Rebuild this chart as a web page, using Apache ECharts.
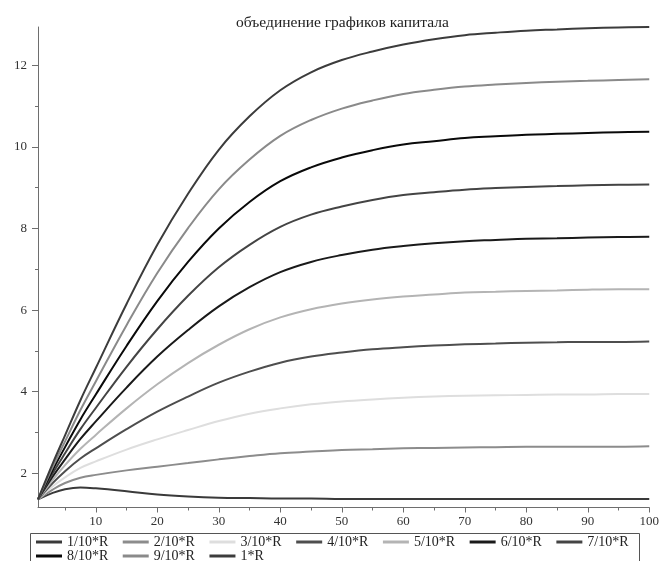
<!DOCTYPE html>
<html>
<head>
<meta charset="utf-8">
<script src="https://cdn.jsdelivr.net/npm/echarts@6/dist/echarts.min.js"></script>
<style>
  html, body { margin: 0; padding: 0; background: #fff; }
  #chart { width: 662px; height: 561px; }
</style>
</head>
<body>
<div id="chart"></div>
<script>
// Capital trajectories for different shares of R
const xValues = [0.6, 3, 5, 7.5, 10, 15, 20, 25, 30, 35, 40, 45, 50, 55, 60, 65, 70, 75, 80, 85, 90, 95, 100];

const r01 = [1.36, 1.52, 1.61, 1.65, 1.63, 1.56, 1.48, 1.43, 1.40, 1.39, 1.38, 1.38, 1.37, 1.37, 1.37, 1.37, 1.37, 1.37, 1.37, 1.37, 1.37, 1.37, 1.37];
const r02 = [1.36, 1.60, 1.76, 1.89, 1.96, 2.07, 2.16, 2.25, 2.34, 2.42, 2.49, 2.53, 2.57, 2.59, 2.61, 2.62, 2.63, 2.64, 2.65, 2.65, 2.65, 2.65, 2.66];
const r03 = [1.36, 1.68, 1.90, 2.13, 2.29, 2.58, 2.83, 3.06, 3.28, 3.46, 3.59, 3.69, 3.76, 3.81, 3.85, 3.88, 3.90, 3.91, 3.92, 3.93, 3.93, 3.94, 3.94];
const r04 = [1.36, 1.76, 2.05, 2.36, 2.61, 3.08, 3.51, 3.88, 4.22, 4.49, 4.71, 4.86, 4.96, 5.04, 5.09, 5.13, 5.16, 5.18, 5.20, 5.21, 5.22, 5.22, 5.23];
const r05 = [1.36, 1.84, 2.20, 2.60, 2.94, 3.59, 4.18, 4.70, 5.15, 5.53, 5.82, 6.02, 6.16, 6.26, 6.33, 6.38, 6.43, 6.45, 6.47, 6.48, 6.50, 6.51, 6.51];
const r06 = [1.36, 1.92, 2.34, 2.84, 3.27, 4.10, 4.86, 5.51, 6.09, 6.56, 6.93, 7.18, 7.35, 7.48, 7.57, 7.64, 7.69, 7.72, 7.75, 7.76, 7.78, 7.79, 7.80];
const r07 = [1.36, 2.00, 2.49, 3.08, 3.60, 4.61, 5.53, 6.35, 7.05, 7.60, 8.04, 8.34, 8.54, 8.70, 8.82, 8.89, 8.95, 8.99, 9.02, 9.04, 9.06, 9.07, 9.08];
const r08 = [1.36, 2.08, 2.64, 3.32, 3.93, 5.12, 6.22, 7.18, 8.00, 8.65, 9.16, 9.50, 9.74, 9.92, 10.06, 10.14, 10.22, 10.26, 10.30, 10.32, 10.34, 10.36, 10.37];
const r09 = [1.36, 2.16, 2.78, 3.55, 4.25, 5.63, 6.91, 8.01, 8.96, 9.69, 10.27, 10.66, 10.94, 11.14, 11.30, 11.40, 11.48, 11.53, 11.57, 11.60, 11.62, 11.64, 11.66];
const r10 = [1.36, 2.24, 2.93, 3.79, 4.58, 6.15, 7.60, 8.85, 9.93, 10.75, 11.39, 11.83, 12.13, 12.34, 12.51, 12.64, 12.74, 12.80, 12.85, 12.88, 12.91, 12.93, 12.94];

const seriesNames = ['1/10*R', '2/10*R', '3/10*R', '4/10*R', '5/10*R', '6/10*R', '7/10*R', '8/10*R', '9/10*R', '1*R'];
const seriesValues = [r01, r02, r03, r04, r05, r06, r07, r08, r09, r10];
const seriesColors = ['#3a3a3a', '#8c8c8c', '#dedede', '#4e4e4e', '#b4b4b4', '#1a1a1a', '#444444', '#0a0a0a', '#8a8a8a', '#3c3c3c'];

const xLabelTicks = [10, 20, 30, 40, 50, 60, 70, 80, 90, 100];
const xMinorTicks = [5, 15, 25, 35, 45, 55, 65, 75, 85, 95];
const yLabelTicks = [2, 4, 6, 8, 10, 12];
const yMinorTicks = [3, 5, 7, 9, 11];

const titleText = 'объединение графиков капитала';

const serif = 'Liberation Serif';
const X_MIN = 0.6, X_MAX = 100, Y_MIN = 1.16, Y_MAX = 12.94;

const chart = echarts.init(document.getElementById('chart'), null, { renderer: 'canvas' });

const series = seriesNames.map((name, i) => ({
  name: name,
  type: 'line',
  xAxisIndex: 0,
  yAxisIndex: 0,
  data: xValues.map((x, j) => [x, seriesValues[i][j]]),
  smooth: 0.4,
  symbol: 'none',
  color: seriesColors[i],
  itemStyle: { color: seriesColors[i] },
  lineStyle: { color: seriesColors[i], width: 2 },
  emphasis: { disabled: true },
  z: 2
}));

const axisLineStyle = { color: '#6e6e6e', width: 1 };

const legendBase = {
  left: 36,
  orient: 'horizontal',
  icon: 'rect',
  itemWidth: 26, itemHeight: 3, itemGap: 14.5,
  padding: 0,
  selectedMode: false,
  textStyle: { fontFamily: serif, fontSize: 14, color: '#222' }
};

const option = {
  backgroundColor: '#ffffff',
  animation: false,
  title: {
    text: titleText,
    left: 337.5,
    textAlign: 'center',
    top: 10,
    textStyle: { fontFamily: serif, fontSize: 15.5, fontWeight: 'normal', color: '#222' }
  },
  grid: { left: 38, right: 10, top: 27, bottom: 53.5, containLabel: false },
  xAxis: [
    {
      type: 'value', min: X_MIN, max: X_MAX,
      axisLine: { show: true, onZero: false, lineStyle: axisLineStyle },
      axisTick: { show: true, length: 5, lineStyle: axisLineStyle, customValues: xLabelTicks },
      axisLabel: { show: true, customValues: xLabelTicks, margin: 8, fontFamily: serif, fontSize: 13, color: '#333' },
      splitLine: { show: false }
    },
    {
      type: 'value', min: X_MIN, max: X_MAX, position: 'bottom',
      axisLine: { show: false, onZero: false },
      axisTick: { show: true, length: 3, lineStyle: axisLineStyle, customValues: xMinorTicks },
      axisLabel: { show: false },
      splitLine: { show: false }
    }
  ],
  yAxis: [
    {
      type: 'value', min: Y_MIN, max: Y_MAX,
      axisLine: { show: true, onZero: false, lineStyle: axisLineStyle },
      axisTick: { show: true, length: 6, lineStyle: axisLineStyle, customValues: yLabelTicks },
      axisLabel: { show: true, customValues: yLabelTicks, margin: 11, fontFamily: serif, fontSize: 13, color: '#333' },
      splitLine: { show: false }
    },
    {
      type: 'value', min: Y_MIN, max: Y_MAX, position: 'left',
      axisLine: { show: false, onZero: false },
      axisTick: { show: true, length: 3, lineStyle: axisLineStyle, customValues: yMinorTicks },
      axisLabel: { show: false },
      splitLine: { show: false }
    }
  ],
  legend: [
    Object.assign({}, legendBase, { data: seriesNames.slice(0, 7), top: 535 }),
    Object.assign({}, legendBase, { data: seriesNames.slice(7), top: 549 })
  ],
  graphic: [
    {
      type: 'rect',
      shape: { x: 30.5, y: 533.5, width: 609, height: 40 },
      style: { fill: 'none', stroke: '#555', lineWidth: 1 },
      silent: true
    }
  ],
  series: series
};

chart.setOption(option);
</script>
</body>
</html>
